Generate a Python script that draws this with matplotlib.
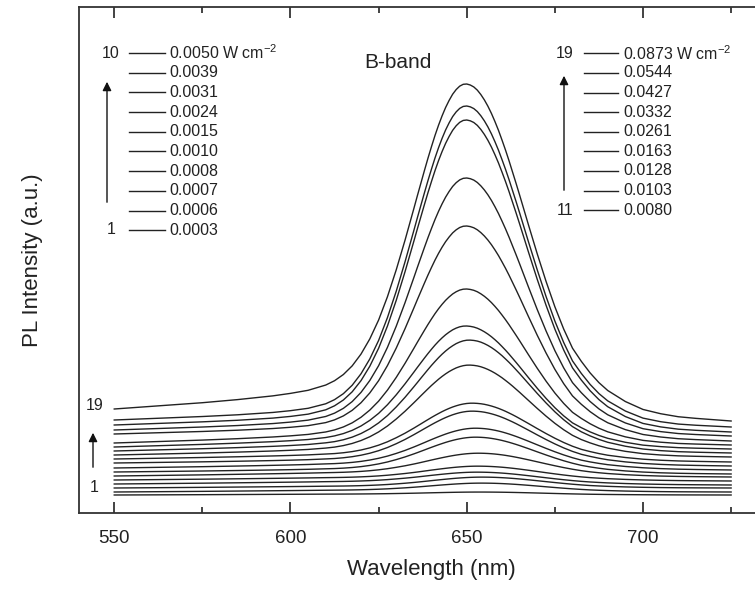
import numpy as np
import matplotlib
matplotlib.use("Agg")
import matplotlib.pyplot as plt
from matplotlib.lines import Line2D

plt.rcParams['font.family'] = ['Liberation Sans', 'DejaVu Sans']
plt.rcParams['mathtext.fontset'] = 'custom'
plt.rcParams['mathtext.rm'] = 'Liberation Sans'
plt.rcParams['mathtext.it'] = 'Liberation Sans'

W, H = 755, 594

# wavelength grid (nm) on which the B-band profile was read
wl = np.array([550, 555, 560, 565, 570, 575, 580, 585, 590, 595, 600, 605,
               610, 612.5, 615, 617.5, 620, 622.5, 625, 627.5, 630, 632.5, 635,
               636, 637, 638, 639, 640, 641, 642, 643, 644, 645, 646, 647, 648,
               649, 650, 651, 652, 653, 654, 655, 656, 657, 658, 659, 660, 661,
               662, 663, 664,
               665, 667.5, 670, 672.5, 675, 677.5, 680, 682.5, 685, 687.5, 690,
               695, 700, 705, 710, 715, 720, 725])

# normalised B-band peak profile
peak_shape = np.array([0, 0, 0, 0, 0, 0, 0, 0, 0.001, 0.002, 0.005, 0.010,
                       0.022, 0.035, 0.054, 0.081, 0.118, 0.166, 0.226, 0.300,
                       0.386, 0.483, 0.586,
                       0.628, 0.669, 0.710, 0.750, 0.788, 0.825, 0.859, 0.890,
                       0.918, 0.942, 0.963, 0.979, 0.991, 0.998, 1.0, 0.998,
                       0.993, 0.984, 0.971, 0.955, 0.936, 0.914, 0.889, 0.862,
                       0.832, 0.801, 0.768, 0.733, 0.698,
                       0.662, 0.570, 0.480, 0.395, 0.317, 0.249, 0.191, 0.152,
                       0.118, 0.090, 0.068,
                       0.038, 0.018, 0.009, 0.004, 0.002, 0.001, 0])

# broad background hump under the peak
bg_wl = [550, 575, 600, 610, 630, 640, 650, 660, 670, 680, 690, 700, 710, 725]
bg_hump = [0, 0.32, 0.70, 0.85, 1.0, 0.97, 0.87, 0.74, 0.58, 0.42, 0.28, 0.17, 0.08, 0]

# per-spectrum values, spectrum 1 (lowest power) -> 19 (highest power)
level_550 = [18, 21, 25, 29, 33, 37, 41, 45, 50, 54, 58, 62, 66, 70, 79, 83, 88, 93, 104]
level_725 = [18, 21, 25, 28, 32, 36, 39, 43, 47, 51, 56, 60, 64, 68, 72, 77, 81, 86, 92]
level_peak = [21, 30, 36, 41, 47, 60, 76, 85, 102, 110, 148, 173, 187, 224, 287, 335, 393, 407, 429]
bg_rise = [1, 2, 2, 3, 3, 4, 4, 5, 5, 6, 7, 8, 9, 10, 11, 12, 13, 14, 25]
peak_pos = [655, 655, 655, 654, 654, 654, 653, 653, 652, 652, 651, 651, 650, 650, 650, 650, 650, 650, 650]

powers_low = ['0.0003', '0.0006', '0.0007', '0.0008', '0.0010',
              '0.0015', '0.0024', '0.0031', '0.0039', '0.0050']
powers_high = ['0.0080', '0.0103', '0.0128', '0.0163', '0.0261',
               '0.0332', '0.0427', '0.0544', '0.0873']

fig = plt.figure(figsize=(W / 100, H / 100), dpi=100)
ax = fig.add_axes([79 / W, 1 - 513 / H, (784 - 79) / W, 506 / H])

ramp = (wl - wl[0]) / (wl[-1] - wl[0])
hump = np.interp(wl, bg_wl, bg_hump)
i650 = list(wl).index(650)
for i in range(19):
    bg = level_550[i] + (level_725[i] - level_550[i]) * ramp + bg_rise[i] * hump
    amp = level_peak[i] - bg[i650]
    shape = np.interp(wl - (peak_pos[i] - 650), wl, peak_shape)
    ax.plot(wl, bg + amp * shape, color='#222222', lw=1.0)

ax.set_xlim(540, 740)
ax.set_ylim(0, 506)
ax.set_xticks([550, 600, 650, 700])
ax.set_xticks([575, 625, 675, 725], minor=True)
ax.set_yticks([])
ax.tick_params(axis='x', which='both', direction='in', top=True, colors='#222222',
               labelsize=13.5, pad=12)
ax.tick_params(axis='x', which='major', length=8, width=1.2)
ax.tick_params(axis='x', which='minor', length=4, width=1.2)
for s in ax.spines.values():
    s.set_linewidth(1.3)
    s.set_color('#333333')
ax.set_xlabel('Wavelength (nm)', fontsize=16, labelpad=9, color='#222222')
ax.set_ylabel('PL Intensity (a.u.)', fontsize=16, labelpad=26, color='#222222')


def fp(x, y):
    return x / W, 1 - y / H


fig.text(*fp(398, 63), 'B-band', fontsize=15, ha='center', va='center', color='#222222')

# left block of powers
for k, p in enumerate(powers_low[::-1]):
    y = 53 + 19.7 * k
    fig.add_artist(Line2D([129 / W, 165 / W], [1 - y / H] * 2, color='#222222', lw=1.0))
    lab = p + r' W cm$^{\mathrm{-2}}$' if k == 0 else p
    fig.text(*fp(169, y), lab, fontsize=11.5, ha='left', va='center', color='#222222')
fig.text(*fp(111, 53), '10', fontsize=11.5, ha='center', va='center', color='#222222')
fig.text(*fp(111, 230), '1', fontsize=11.5, ha='center', va='center', color='#222222')
ax.annotate('', xy=fp(107, 79), xytext=fp(107, 205), xycoords='figure fraction',
            textcoords='figure fraction',
            arrowprops=dict(arrowstyle='-|>', color='#111111', lw=1.0, mutation_scale=13))

# right block of powers
for k, p in enumerate(powers_high[::-1]):
    y = 53.3 + 19.6 * k
    fig.add_artist(Line2D([584 / W, 618 / W], [1 - y / H] * 2, color='#222222', lw=1.0))
    lab = p + r' W cm$^{\mathrm{-2}}$' if k == 0 else p
    fig.text(*fp(623, y), lab, fontsize=11.5, ha='left', va='center', color='#222222')
fig.text(*fp(565, 53), '19', fontsize=11.5, ha='center', va='center', color='#222222')
fig.text(*fp(565, 210), '11', fontsize=11.5, ha='center', va='center', color='#222222')
ax.annotate('', xy=fp(564, 73), xytext=fp(564, 193), xycoords='figure fraction',
            textcoords='figure fraction',
            arrowprops=dict(arrowstyle='-|>', color='#111111', lw=1.0, mutation_scale=13))

# spectrum numbering at the left
fig.text(*fp(95, 406), '19', fontsize=11.5, ha='center', va='center', color='#222222')
fig.text(*fp(94, 488), '1', fontsize=11.5, ha='center', va='center', color='#222222')
ax.annotate('', xy=fp(93, 430), xytext=fp(93, 470), xycoords='figure fraction',
            textcoords='figure fraction',
            arrowprops=dict(arrowstyle='-|>', color='#111111', lw=1.0, mutation_scale=13))

fig.savefig('out.png', dpi=100)
